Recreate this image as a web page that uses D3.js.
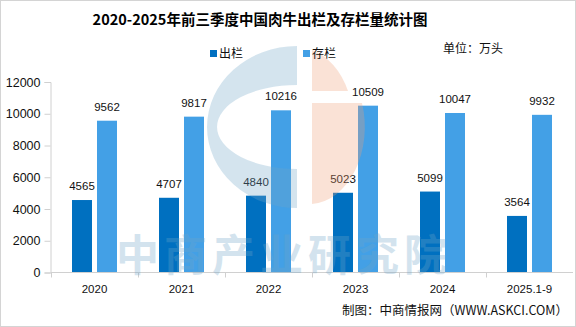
<!DOCTYPE html>
<html>
<head>
<meta charset="utf-8">
<script src="https://cdn.jsdelivr.net/npm/d3@7"></script>
<style>
    body { margin: 0; background: #fff; }
    svg { display: block; }
</style>
</head>
<body>
<svg id="chart"></svg>
<script>
var categories = ["2020", "2021", "2022", "2023", "2024", "2025.1-9"];
var chulanValues = [4565, 4707, 4840, 5023, 5099, 3564];
var cunlanValues = [9562, 9817, 10216, 10509, 10047, 9932];
var seriesNames = ["出栏", "存栏"];
var yTicks = [0, 2000, 4000, 6000, 8000, 10000, 12000];

var dimensions = {
    width: 576,
    height: 327,
    margin: {
        top: 82,
        bottom: 54,
        right: 3,
        left: 51
    }
}

var colors = ["#0070c0", "#43a0e6"];
var cjk = "'Noto Sans CJK SC', 'Noto Sans', sans-serif";
var latin = "'Liberation Sans', Arial, sans-serif";

var svg = d3.select("#chart")
    .attr("width", dimensions.width)
    .attr("height", dimensions.height)

// outer border
svg.append("rect")
    .attr("x", 0.5).attr("y", 0.5)
    .attr("width", dimensions.width - 1)
    .attr("height", dimensions.height - 1)
    .attr("fill", "#fff")
    .attr("stroke", "#d4d4d4")

var xScale = d3.scaleBand()
    .domain(categories)
    .range([dimensions.margin.left, dimensions.width - dimensions.margin.right])

var subScale = d3.scaleBand()
    .domain(seriesNames)
    .range([-22.5, 22.5])
    .paddingInner(0.2)

var yScale = d3.scaleLinear()
    .domain([0, 12000])
    .range([dimensions.height - dimensions.margin.bottom - 0.5, dimensions.margin.top])

var table = categories.map(function(c, i) {
    return { category: c, values: [chulanValues[i], cunlanValues[i]] };
})

// y axis
var yAxis = svg.append("g")
    .attr("transform", "translate(" + (dimensions.margin.left - 0.5) + ",0)")
    .call(d3.axisLeft(yScale).tickValues(yTicks).tickSize(6).tickFormat(d3.format("d")))
yAxis.select(".domain").attr("stroke", "#d0d0d0")
yAxis.selectAll(".tick line").attr("stroke", "#d0d0d0")
yAxis.selectAll(".tick text")
    .attr("x", -10)
    .attr("fill", "#111")
    .style("font-family", latin)
    .style("font-size", "12.5px")

// bars
var groups = svg.append("g")
    .selectAll("g")
    .data(table)
    .enter()
    .append("g")
    .attr("transform", function(d) {
        return "translate(" + (xScale(d.category) + xScale.bandwidth() / 2) + ",0)";
    })

groups.selectAll("rect")
    .data(function(d) { return d.values; })
    .enter()
    .append("rect")
    .attr("x", function(d, i) { return subScale(seriesNames[i]); })
    .attr("y", function(d) { return yScale(d); })
    .attr("width", subScale.bandwidth())
    .attr("height", function(d) { return yScale(0) - yScale(d); })
    .attr("fill", function(d, i) { return colors[i]; })

groups.selectAll("text")
    .data(function(d) { return d.values; })
    .enter()
    .append("text")
    .attr("x", function(d, i) { return subScale(seriesNames[i]) + subScale.bandwidth() / 2; })
    .attr("y", function(d) { return yScale(d) - 10; })
    .attr("text-anchor", "middle")
    .attr("fill", "#111")
    .style("font-family", latin)
    .style("font-size", "11.5px")
    .text(function(d) { return d; })

// x axis
var xAxis = svg.append("g")
    .attr("transform", "translate(0," + (yScale(0)) + ")")
    .call(d3.axisBottom(xScale).tickSize(0).tickPadding(12))
xAxis.select(".domain").attr("stroke", "#d0d0d0").attr("d", "M" + dimensions.margin.left + ",0H" + (dimensions.width - dimensions.margin.right))
xAxis.selectAll(".tick text")
    .attr("fill", "#111")
    .style("font-family", latin)
    .style("font-size", "11.5px")
xAxis.selectAll(".sep")
    .data(categories)
    .enter()
    .append("line")
    .attr("x1", function(d) { return Math.round(xScale(d)) + 0.5; })
    .attr("x2", function(d) { return Math.round(xScale(d)) + 0.5; })
    .attr("y1", 0).attr("y2", 5)
    .attr("stroke", "#d0d0d0")

// watermark (drawn over the bars, translucent)
var wm = svg.append("g").attr("pointer-events", "none")
var cx = 297, cy = 127;
wm.append("path")
    .attr("d", "M" + cx + "," + (cy - 81) +
        " A90,81 0 0 0 " + cx + "," + (cy + 81) +
        " L" + cx + "," + (cy + 42) +
        " A80,42 0 0 1 " + cx + "," + (cy - 42) + " Z")
    .attr("fill", "#6fa5c8")
    .attr("opacity", 0.3)
var px = 312;
wm.append("path")
    .attr("d", "M" + px + ",50 A56,77 0 0 1 " + (px + 36) + ",91 L" + px + ",91 Z")
    .attr("fill", "#f0a078")
    .attr("opacity", 0.3)
wm.append("path")
    .attr("d", "M" + px + ",103 L" + (px + 50) + ",103 A56,77 0 0 1 " + px + ",204 Z")
    .attr("fill", "#f0a078")
    .attr("opacity", 0.3)
wm.append("text")
    .attr("x", 284).attr("y", 271)
    .attr("text-anchor", "middle")
    .attr("fill", "#6fa5c8")
    .attr("opacity", 0.3)
    .style("font-family", cjk)
    .style("font-weight", "bold")
    .style("font-size", "43px")
    .style("letter-spacing", "5px")
    .text("中商产业研究院")

// title
svg.append("text")
    .attr("x", 260).attr("y", 25)
    .attr("text-anchor", "middle")
    .attr("fill", "#000")
    .style("font-family", cjk)
    .style("font-weight", "bold")
    .style("font-size", "14.5px")
    .text("2020-2025年前三季度中国肉牛出栏及存栏量统计图")

// legend
var legend = svg.append("g")
    .selectAll("g")
    .data(seriesNames)
    .enter()
    .append("g")
    .attr("transform", function(d, i) { return "translate(" + (210 + i * 93) + ",50)"; })
legend.append("rect")
    .attr("width", 7).attr("height", 7)
    .attr("fill", function(d, i) { return colors[i]; })
legend.append("text")
    .attr("x", 9).attr("y", 8)
    .attr("fill", "#111")
    .style("font-family", cjk)
    .style("font-size", "12px")
    .text(function(d) { return d; })

svg.append("text")
    .attr("x", 443).attr("y", 53)
    .attr("fill", "#111")
    .style("font-family", cjk)
    .style("font-size", "12px")
    .text("单位：万头")

svg.append("text")
    .attr("x", 342).attr("y", 315)
    .attr("fill", "#111")
    .style("font-family", cjk)
    .style("font-size", "12.5px")
    .text("制图：中商情报网（WWW.ASKCI.COM）")
</script>
</body>
</html>
